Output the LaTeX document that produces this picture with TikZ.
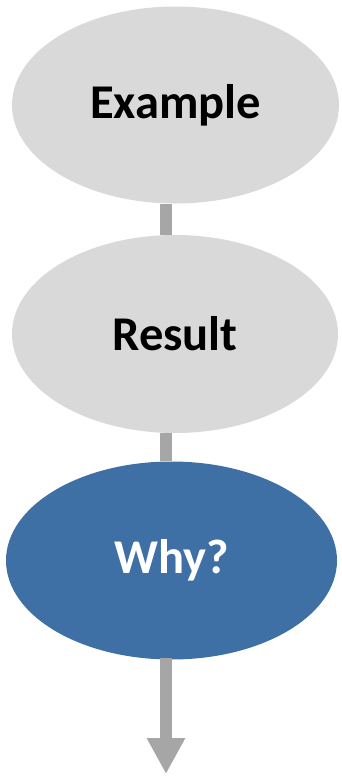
\documentclass[tikz,border=0pt]{standalone}
\usepackage{fontspec}
\setmainfont{Carlito}
\usetikzlibrary{shapes.geometric,arrows.meta,backgrounds}
\definecolor{lightgr}{HTML}{D9D9D9}
\definecolor{bluefill}{HTML}{3E70A5}
\definecolor{conngr}{HTML}{A6A6A6}
\begin{document}
\begin{tikzpicture}[x=1pt,y=1pt,
  oval/.style={ellipse, inner sep=0pt, draw=none, font=\fontsize{48.5}{56}\selectfont\bfseries},
  grayoval/.style={oval, fill=lightgr, text=black},
  blueoval/.style={oval, fill=bluefill, text=white},
  conn/.style={draw=conngr, line width=12pt}]
\useasboundingbox (0,0) rectangle (341,-777);
\node[grayoval, minimum width=327pt, minimum height=197pt] (e1) at (175.5,-105) {Example};
\node[grayoval, minimum width=326pt, minimum height=198pt] (e2) at (175,-334) {Result};
\node[blueoval, minimum width=331pt, minimum height=198pt] (e3) at (171.5,-560.5) {Why?};
\coordinate (tip) at (166,-774);
\begin{scope}[on background layer]
\draw[conn] (e1.south -| tip) -- (e2.north -| tip);
\draw[conn] (e2.south -| tip) -- (e3.north -| tip);
\end{scope}
\draw[conn, -{Triangle[width=36pt,length=36pt]}, shorten <=-2pt] (e3.south -| tip) -- (tip);
\end{tikzpicture}
\end{document}
